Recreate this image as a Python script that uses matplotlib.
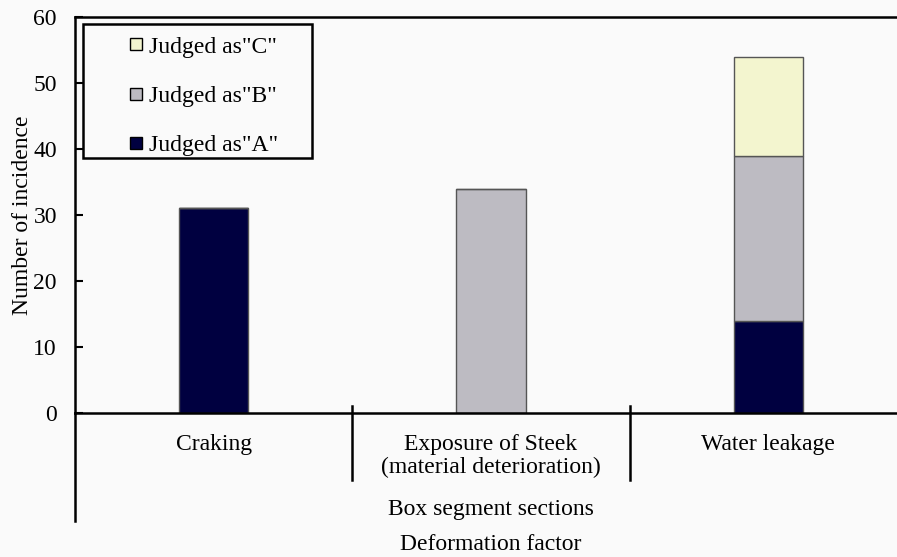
import matplotlib.pyplot as plt
from matplotlib.lines import Line2D
from matplotlib.patches import Rectangle
from matplotlib.transforms import blended_transform_factory

plt.rcParams['font.family'] = ['Liberation Serif', 'DejaVu Serif']

categories = ["Craking", "Exposure of Steek\n(material deterioration)", "Water leakage"]
judged_a = [31, 0, 14]
judged_b = [0, 34, 25]
judged_c = [0, 0, 15]
series_labels = ['Judged as"A"', 'Judged as"B"', 'Judged as"C"']
colors = ["#000040", "#bdbbc2", "#f3f5cf"]
group_label = "Box segment sections"
factor_label = "Deformation factor"

W, H = 897, 557
fig = plt.figure(figsize=(W / 100, H / 100), dpi=100, facecolor="#fafafa")
ax = fig.add_axes([75 / W, (H - 413) / H, (907 - 75) / W, (413 - 17) / H])
ax.set_facecolor("#fafafa")

x = list(range(len(categories)))
bw = 0.25
bottom = [0] * len(x)
for vals, col in zip([judged_a, judged_b, judged_c], colors):
    ax.bar(x, vals, bw, bottom=bottom, color=col, edgecolor="#555555", linewidth=1)
    bottom = [b + v for b, v in zip(bottom, vals)]

ax.set_xlim(-0.5, 2.5)
ax.set_ylim(0, 60)
ax.set_yticks(range(0, 61, 10))
ax.set_xticks([])
ax.tick_params(axis="y", direction="in", length=6, width=1.5, pad=13, labelsize=17)
for s in ["left", "top", "bottom"]:
    ax.spines[s].set_linewidth(1.8)
ax.spines["right"].set_visible(False)
ax.set_ylabel("Number of incidence", fontsize=17, labelpad=0)

# category labels and separators below axis
tr = blended_transform_factory(ax.transData, fig.transFigure)
for i, c in enumerate(categories):
    ax.text(i, 1 - 434 / H, c, transform=tr, ha="center", va="top", fontsize=17,
            linespacing=1.1)
for i in range(len(categories) - 1):
    ax.plot([i + 0.5, i + 0.5], [1 - 406 / H, 1 - 480 / H], transform=tr,
            color="black", lw=1.8, clip_on=False)
ax.plot([-0.5, -0.5], [1 - 413 / H, 1 - 521 / H], transform=tr,
        color="black", lw=1.8, clip_on=False)
ax.text(1, 1 - 509 / H, group_label, transform=tr, ha="center", va="center", fontsize=17)
ax.text(1, 1 - 545 / H, factor_label, transform=tr, ha="center", va="center", fontsize=17)

# legend
handles = [Line2D([], [], ls="none", marker="s", markersize=9, markerfacecolor=col,
                  markeredgecolor="black", markeredgewidth=1)
           for col in colors[::-1]]
leg = fig.legend(handles, series_labels[::-1], loc="upper left",
                 bbox_to_anchor=(127 / W, 1 - 36 / H), frameon=False, fontsize=17,
                 labelspacing=1.18, handlelength=0.8, handletextpad=0.15,
                 borderpad=0, borderaxespad=0)
fig.patches.append(Rectangle((83 / W, 1 - 158 / H), (312 - 83) / W, (158 - 24) / H,
                             transform=fig.transFigure, fill=False,
                             edgecolor="black", linewidth=1.8))

fig.savefig("out.png", dpi=100, facecolor=fig.get_facecolor())
